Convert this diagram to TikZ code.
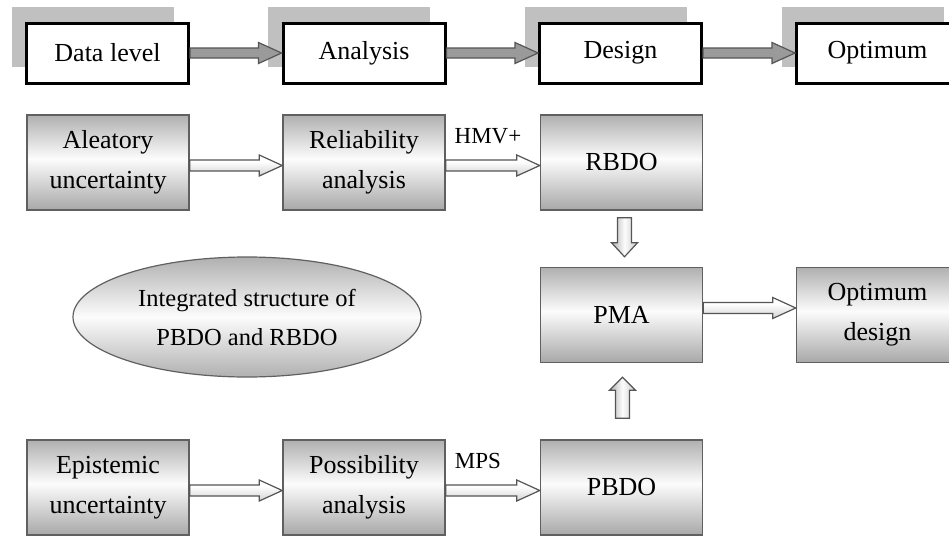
\documentclass[tikz,border=0pt]{standalone}
\usepackage{fontspec}
\setmainfont{Liberation Serif}
\usetikzlibrary{calc,shapes.geometric,shadows}
\definecolor{shadowgray}{HTML}{C0C0C0}
\definecolor{boxline}{HTML}{606060}
\definecolor{arrline}{HTML}{555555}
\definecolor{darkfill}{HTML}{9A9A9A}
\definecolor{gtop}{HTML}{B0B0B0}
\definecolor{gbot}{HTML}{A8A8A8}
\definecolor{gmid}{HTML}{FCFCFC}
\pgfdeclareverticalshading{boxshade}{100bp}{color(0bp)=(gbot); color(25bp)=(gbot); color(52bp)=(gmid); color(75bp)=(gtop); color(100bp)=(gtop)}
\pgfdeclareverticalshading{ellshade}{100bp}{color(0bp)=(gtop); color(25bp)=(gtop); color(50bp)=(gmid); color(75bp)=(gtop); color(100bp)=(gtop)}
\pgfdeclarehorizontalshading{vshade}{100bp}{color(0bp)=(gtop); color(25bp)=(gtop); color(50bp)=(gmid); color(75bp)=(gtop!70); color(100bp)=(gtop!70)}
\pgfdeclareverticalshading{hshade}{100bp}{color(0bp)=(gray!35); color(25bp)=(gray!35); color(60bp)=(white); color(75bp)=(white); color(100bp)=(white)}
\newcommand{\blockarr}[6]{%
  \coordinate (tmpH) at ($(#3)!#6!(#2)$);
  \path[#1] ($(#2)!#4!90:(#3)$) -- ($(tmpH)!#4!90:(#3)$) -- ($(tmpH)!#5!90:(#3)$)
    -- (#3) -- ($(tmpH)!#5!-90:(#3)$) -- ($(tmpH)!#4!-90:(#3)$) -- ($(#2)!#4!-90:(#3)$) -- cycle;}
\begin{document}
\begin{tikzpicture}[x=1pt,y=-1pt,
  topbox/.style={draw=black,line width=3pt,fill=white,minimum width=162pt,minimum height=60pt,inner sep=0pt,
    font=\fontsize{26}{31}\selectfont,
    general shadow={fill=shadowgray,shadow xshift=-15pt,shadow yshift=16pt}},
  gbox/.style={draw=boxline,line width=1.5pt,minimum width=162pt,minimum height=95pt,inner sep=0pt,
    align=center,font=\fontsize{26}{40}\selectfont,shade,shading=boxshade},
  darrow/.style={draw=arrline,line width=1.2pt,fill=darkfill},
  harrow/.style={draw=arrline,line width=1.2pt,shade,shading=hshade},
  varrow/.style={draw=arrline,line width=1.2pt,shade,shading=vshade},
  lbl/.style={font=\fontsize{23}{27}\selectfont,inner sep=0pt}]
\useasboundingbox (0,0) rectangle (949,538);
% top row
\node[topbox] (t1) at (107.5,53) {Data level};
\node[topbox] (t2) at (364,53) {Analysis};
\node[topbox] (t3) at (620.5,53) {Design};
\node[topbox] (t4) at (877.5,53) {Optimum};
\blockarr{darrow}{t1.east}{t2.west}{5pt}{10.5pt}{23pt}
\blockarr{darrow}{t2.east}{t3.west}{5pt}{10.5pt}{23pt}
\blockarr{darrow}{t3.east}{t4.west}{5pt}{10.5pt}{23pt}
% second row
\node[gbox] (ale) at (108,162.5) {Aleatory\\uncertainty};
\node[gbox] (rel) at (364,162.5) {Reliability\\analysis};
\node[gbox] (rbdo) at (621.5,162.5) {RBDO};
\node[gbox] (pma) at (621.5,315) {PMA};
\node[gbox] (opt) at (877.5,315) {Optimum\\design};
\node[gbox] (epi) at (108,487.5) {Epistemic\\uncertainty};
\node[gbox] (pos) at (364,487.5) {Possibility\\analysis};
\node[gbox] (pbdo) at (621.5,487.5) {PBDO};
\node[ellipse,draw=boxline,line width=1.2pt,minimum width=348pt,minimum height=120pt,inner sep=0pt,
  align=center,font=\fontsize{24.5}{39}\selectfont,
  shade,shading=ellshade] (ell) at (247,317) {Integrated structure of\\PBDO and RBDO};
% hollow arrows
\coordinate (a1s) at ($(ale.east)+(0,3)$);
\coordinate (a1e) at ($(rel.west)+(0,3)$);
\blockarr{harrow}{a1s}{a1e}{5.5pt}{10.5pt}{23pt}
\coordinate (a2s) at ($(rel.east)+(0,3)$);
\coordinate (a2e) at ($(rbdo.west)+(0,3)$);
\blockarr{harrow}{a2s}{a2e}{5.5pt}{10.5pt}{23pt}
\coordinate (a3s) at ($(epi.east)+(0,3)$);
\coordinate (a3e) at ($(pos.west)+(0,3)$);
\blockarr{harrow}{a3s}{a3e}{5.5pt}{10.5pt}{23pt}
\coordinate (a4s) at ($(pos.east)+(0,3)$);
\coordinate (a4e) at ($(pbdo.west)+(0,3)$);
\blockarr{harrow}{a4s}{a4e}{5.5pt}{10.5pt}{23pt}
\coordinate (a5s) at ($(pma.east)+(0,-7)$);
\coordinate (a5e) at ($(opt.west)+(0,-7)$);
\blockarr{harrow}{a5s}{a5e}{5.5pt}{10.5pt}{23pt}
\coordinate (v1s) at ($(rbdo.south)+(3,7)$);
\coordinate (v1e) at ($(pma.north)+(3,-10)$);
\blockarr{varrow}{v1s}{v1e}{7pt}{13pt}{14pt}
\coordinate (v2s) at ($(pbdo.north)+(1,-21)$);
\coordinate (v2e) at ($(pma.south)+(1,14)$);
\blockarr{varrow}{v2s}{v2e}{7pt}{13pt}{13pt}
% labels
\node[lbl] (hmv) at (488,136) {HMV+};
\node[lbl] (mps) at (478,461) {MPS};
\end{tikzpicture}
\end{document}
